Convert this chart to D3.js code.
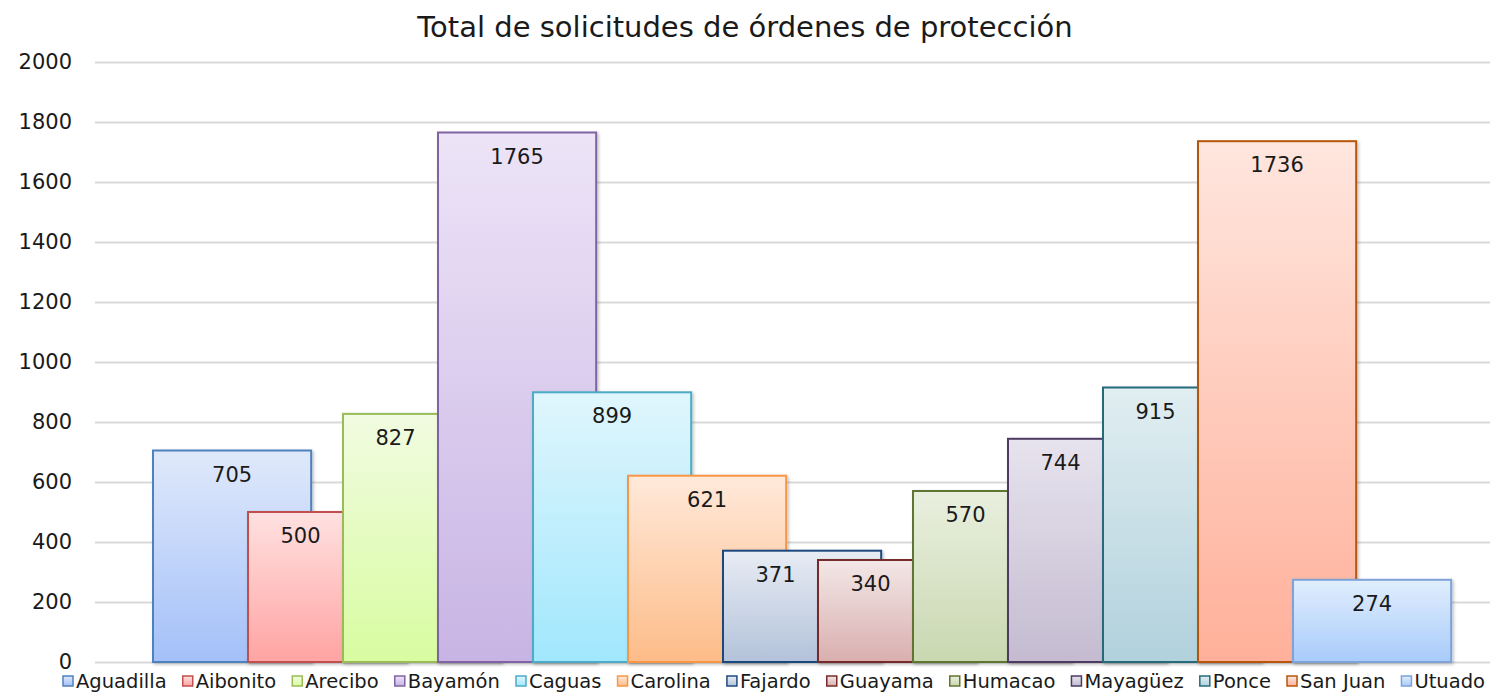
<html>
<head>
<meta charset="utf-8">
<title>Total de solicitudes</title>
<script src="https://d3js.org/d3.v7.min.js"></script>
<style>
  body { margin: 0; background: #fff; }
  text { font-family: "DejaVu Sans", "Open Sans", sans-serif; fill: #1a1a1a; }
</style>
</head>
<body>
<svg id="chart" width="1492" height="693"></svg>
<script>
// data
const regions = ["Aguadilla", "Aibonito", "Arecibo", "Bayamón", "Caguas", "Carolina", "Fajardo",
                 "Guayama", "Humacao", "Mayagüez", "Ponce", "San Juan", "Utuado"];
const solicitudes = [705, 500, 827, 1765, 899, 621, 371, 340, 570, 744, 915, 1736, 274];
const yTicks = [0, 200, 400, 600, 800, 1000, 1200, 1400, 1600, 1800, 2000];
const borderColors = ["#4f81bd", "#c0504d", "#9bbb59", "#8064a2", "#4bacc6", "#f79646", "#1f497d",
                      "#772c2a", "#5f7530", "#4d3b62", "#276a7c", "#b65708", "#7da3d8"];
const topColors = ["#e0e9fb", "#ffe1e1", "#f1fbe1", "#ede4f7", "#e0f6fc", "#ffe9da", "#e8ecf4",
                   "#f3e7e7", "#e9efde", "#e7e3ee", "#e1eef2", "#ffe6de", "#e1eefd"];
const bottomColors = ["#a3c0f8", "#ffa4a2", "#d8fca0", "#c8b4e4", "#a1e7fd", "#fdbc88", "#b3c2da",
                      "#d9afae", "#c9d8b1", "#c4bbd0", "#b1d1dc", "#ffb09a", "#a8cbfa"];

const svg = d3.select("#chart");
const plotLeft = 95, plotRight = 1490;

const y = d3.scaleLinear().domain([0, 2000]).range([662, 62]);
// bars overlap: each bar is wider than the step between them
const x = d3.scaleBand().domain(regions).range([153, 153 + 95 * regions.length]).paddingInner(0).paddingOuter(0);
const barW = x.bandwidth() * 1.665;

// gradients
const defs = svg.append("defs");
regions.forEach((r, i) => {
  const g = defs.append("linearGradient").attr("id", "grad" + i)
    .attr("x1", 0).attr("y1", 0).attr("x2", 0).attr("y2", 1);
  g.append("stop").attr("offset", "0%").attr("stop-color", topColors[i]);
  g.append("stop").attr("offset", "100%").attr("stop-color", bottomColors[i]);
});
const shadow = defs.append("filter").attr("id", "shadow").attr("x", "-10%").attr("y", "-10%").attr("width", "130%").attr("height", "130%");
shadow.append("feDropShadow").attr("dx", 1.5).attr("dy", 1.5).attr("stdDeviation", 1.5).attr("flood-color", "#000").attr("flood-opacity", 0.25);

// title
svg.append("text").attr("x", 745).attr("y", 37).attr("text-anchor", "middle")
  .style("font-size", "29px").text("Total de solicitudes de órdenes de protección");

// grid + y axis
const yAxis = d3.axisLeft(y).tickValues(yTicks).tickFormat(d3.format("d"))
  .tickSize(-(plotRight - plotLeft)).tickPadding(23);
const ga = svg.append("g").attr("transform", `translate(${plotLeft},0)`).call(yAxis);
ga.select(".domain").remove();
ga.selectAll(".tick line").attr("stroke", "#d9d9d9").attr("stroke-width", 2);
ga.selectAll(".tick text").style("font-size", "21px").attr("fill", "#1a1a1a");

// bars
svg.append("g").selectAll("rect").data(regions).enter().append("rect")
  .attr("x", d => x(d))
  .attr("y", (d, i) => y(solicitudes[i]))
  .attr("width", barW)
  .attr("height", (d, i) => y(0) - y(solicitudes[i]))
  .attr("fill", (d, i) => `url(#grad${i})`)
  .attr("stroke", (d, i) => borderColors[i])
  .attr("stroke-width", 2)
  .attr("filter", "url(#shadow)");

// labels: centred on the visible part when the next bar hides the right side
svg.append("g").selectAll("text").data(regions).enter().append("text")
  .attr("x", (d, i) => {
    const next = solicitudes[i + 1];
    if (next !== undefined && next > solicitudes[i] - 60) return x(d) + x.step() / 2 + 5;
    return x(d) + barW / 2;
  })
  .attr("y", (d, i) => y(solicitudes[i]) + 31)
  .attr("text-anchor", "middle")
  .style("font-size", "21px")
  .text((d, i) => solicitudes[i]);

// legend
const legend = svg.append("g").attr("transform", "translate(0,681)");
const items = legend.selectAll("g").data(regions).enter().append("g");
items.append("rect").attr("width", 10).attr("height", 10).attr("y", -5)
  .attr("fill", (d, i) => `url(#grad${i})`).attr("stroke", (d, i) => borderColors[i]).attr("stroke-width", 1.5);
items.append("text").attr("x", 13).attr("dy", "0.35em").style("font-size", "19.5px").text(d => d);
const widths = [];
items.each(function () { widths.push(15 + this.querySelector("text").getComputedTextLength()); });
const total = d3.sum(widths);
const gap = Math.max(4, (1487 - 63 - total) / (regions.length - 1));
let cx = 63;
items.each(function (d, i) {
  d3.select(this).attr("transform", `translate(${cx},0)`);
  cx += widths[i] + gap;
});
</script>
</body>
</html>
